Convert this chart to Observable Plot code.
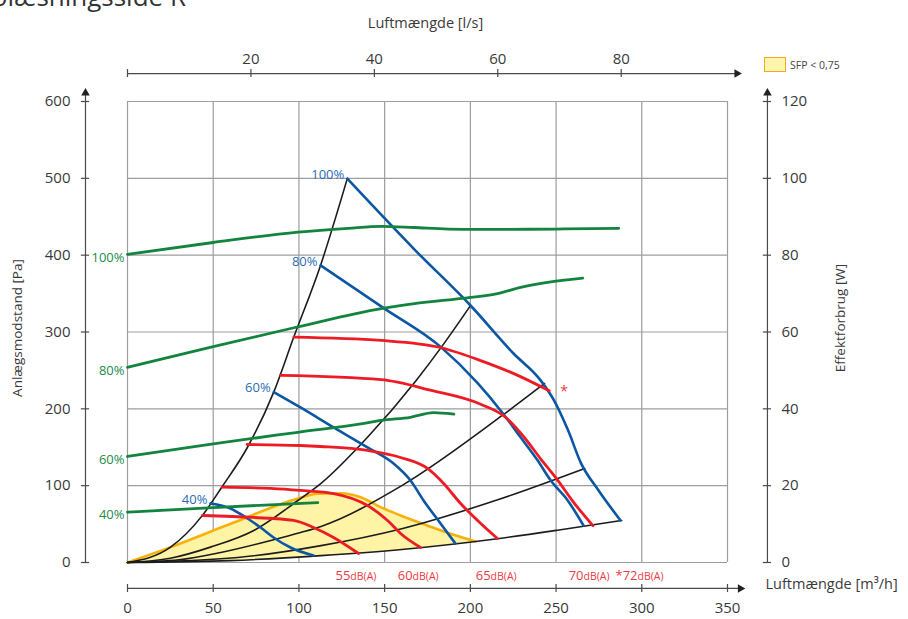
<!DOCTYPE html>
<html>
<head>
<meta charset="utf-8">
<script src="https://cdn.jsdelivr.net/npm/d3@7"></script>
<script src="https://cdn.jsdelivr.net/npm/@observablehq/plot@0.6"></script>
<style>
  html, body { margin: 0; padding: 0; background: #fff; }
  body { width: 908px; height: 619px; overflow: hidden; position: relative; font-family: "Open Sans", sans-serif; }
  #chart { position: absolute; left: 0; top: 0; }
  #title { position: absolute; right: 722px; top: -22px; font-size: 26px; color: #333; white-space: nowrap; line-height: 36px; }
  #legend { position: absolute; left: 764px; top: 57px; display: flex; align-items: center; font-size: 10.5px; color: #444; }
  #legend .sw { width: 20px; height: 13px; background: #fff5ad; border: 1.5px solid #f5a623; margin-right: 4px; }
</style>
</head>
<body>
<div id="chart"></div>
<div id="title">Indblæsningsside R</div>
<div id="legend"><div class="sw"></div><span>SFP &lt; 0,75</span></div>
<script>
// ---------- tick labels ----------
const xTicks = [0, 50, 100, 150, 200, 250, 300, 350];     // m³/h
const paTicks = [0, 100, 200, 300, 400, 500, 600];        // Pa
const wTicks = [0, 20, 40, 60, 80, 100, 120];             // W
const lsTicks = [0, 20, 40, 60, 80];                      // l/s
const PA_PER_W = 5;      // 120 W aligned with 600 Pa
const M3H_PER_LS = 3.6;

// ---------- fan curves (pressure, Pa) at control % ----------
const blueLabels = ["100%", "80%", "60%", "40%"];
const blue100 = [[128.2,499.6],[168,406],[200.1,334.5],[225.2,272],[241,237],[248.8,211],[257,172],[264.6,129],[274.7,94],[287.6,54.7]];
const blue80  = [[112.6,386.7],[149.7,330.7],[183,280],[204,234],[219,194],[229.3,163],[239.2,133],[246.8,107],[256.7,81],[266,48.2]];
const blue60  = [[85.3,221.8],[100.9,201.8],[120.2,175.8],[140,149.7],[155.2,128.9],[165.1,106.8],[172.7,80.7],[182.6,50.8],[191.3,24.7]];
const blue40  = [[48.4,76.8],[60.1,70.3],[70,57.3],[77.6,45.6],[85.2,32.6],[95.1,19.5],[108.5,9.1]];

// ---------- power curves (W) at control % ----------
const greenLabels = ["100%", "80%", "60%", "40%"];
const green100 = [[0,80.2],[50,83.3],[99.4,86],[128.7,87],[148,87.5],[167,87.2],[187,86.8],[206,86.7],[250,86.8],[286.5,87]];
const green80  = [[0,50.8],[50,56.2],[99,61.3],[148,66.1],[167.3,67.4],[200.1,69],[215.8,70],[229.3,71.6],[245,72.9],[265.5,74]];
const green60  = [[0,27.6],[50,30.9],[99.4,33.9],[138,36.2],[147.6,37],[165,37.8],[178.5,39],[190.4,38.6]];
const green40  = [[0,13.1],[50,14.3],[111,15.6]];

// ---------- sound level curves, dB(A) ----------
const redLabels = ["55", "60", "65", "70", "*72"];
const redLabelX = [130, 166.3, 211.8, 266, 297.5];
const red55 = [[43.8,61.2],[73.5,58.6],[96.8,54.7],[108.5,45.6],[120.2,32.6],[134.8,11.7]];
const red60 = [[55.2,98],[83.4,96.4],[100.9,93.8],[120.2,89.8],[140,74.2],[151.7,54.7],[159.3,37.8],[171,19.5]];
const red65 = [[69.8,153.6],[100.9,152.3],[112.6,151],[140,145.8],[159.3,136.7],[175,122.4],[184.4,102.9],[194.3,76.8],[204.2,54.7],[215.8,31.2]];
const red70 = [[89.3,243.5],[148,238],[177.2,224],[206,206],[220,190],[231,164],[241,135],[251,107],[260,79],[271.5,48]];
const red72 = [[97,293.4],[148,289],[183,279.5],[206.4,262.5],[225.7,245.5],[246,223.5]];

// ---------- system curves ----------
const sys1 = [[0,0],[25.1,20],[43.6,61],[55,98],[70,150],[85.3,221.8],[97,293.4],[112.6,386.7],[128.2,499.6]];
const sys2 = [[0,0],[25,5.5],[48.4,20],[73.7,41.7],[99.4,80.7],[112.9,103],[140,163],[168.4,237],[183,280],[200.1,334.5]];
const sys3 = [[0,0],[30,3.5],[54.4,13],[83.6,28.6],[101,39],[112.9,47],[160,100],[219,192],[243.3,233]];
const sys4 = [[0,0],[64.3,6.5],[112.9,22],[160,44],[216.4,82],[266.7,122.4]];
const sys5 = [[0,0],[60,2.5],[112.9,9],[160,17],[215.8,31],[250.8,42],[288.3,54.7]];

// ---------- SFP < 0,75 zone: [x, lower, upper] ----------
const sfpZone = [[0,0,0],[25.1,0.4,20],[62,2.6,52],[99,6.5,83],[110.7,8.1,89.4],[124.3,10.2,90.2],[136,12.2,85],[147.6,14.3,72],[159.3,16.7,61.2],[174.8,20.1,48.2],[188.4,23.4,37.3],[203,27.3,27.3]];

// ---------- styling ----------
const BLUE = "#0c57a4", RED = "#ed1c24", GREEN = "#13843e", BLACK = "#1c1c1c";
const ORANGE = "#f7b10a", YELLOW = "#fff3a6", GRID = "#9d9d9d", AXIS = "#4a4a4a", TXT = "#3a3a3a";

const flat = (arrs, labels) => arrs.flatMap((pts, i) => pts.map(p => ({x: p[0], y: p[1], k: labels[i]})));
const blueData = flat([blue100, blue80, blue60, blue40], blueLabels);
const greenData = flat([green100, green80, green60, green40], greenLabels);
const redData = flat([red55, red60, red65, red70, red72], redLabels);
const sysData = flat([sys1, sys2, sys3, sys4, sys5], ["s1","s2","s3","s4","s5"]);
const blueStarts = [blue100, blue80, blue60, blue40].map((p, i) => ({x: p[0][0], y: p[0][1], t: blueLabels[i]}));
const greenStarts = [green100, green80, green60, green40].map((p, i) => ({x: p[0][0], y: p[0][1], t: greenLabels[i]}));

// axis positions (in data units of the shared scales)
const LEFT_AXIS_X = -24.5, RIGHT_AXIS_X = 373.3, TOP_AXIS_Y = 636.4, BOTTOM_AXIS_Y = -33.8;
const TX = 2.4, TY = 5.2; // half tick lengths

const chart = Plot.plot({
  width: 908, height: 619,
  marginLeft: 127, marginRight: 181, marginTop: 101, marginBottom: 57,
  x: {domain: [0, 350], axis: null},
  y: {domain: [0, 600], axis: null},
  style: {fontFamily: "'Open Sans', sans-serif", fontSize: "14px", background: "#fff"},
  marks: [
    // grid
    Plot.ruleX(xTicks, {stroke: GRID, strokeWidth: 1.2}),
    Plot.ruleY(paTicks, {stroke: GRID, strokeWidth: 1.2}),
    // SFP zone
    Plot.areaY(sfpZone, {x: d => d[0], y1: d => d[1], y2: d => d[2], fill: YELLOW, curve: "monotone-x"}),
    Plot.line(sfpZone, {x: d => d[0], y: d => d[2], stroke: ORANGE, strokeWidth: 2.6, curve: "monotone-x"}),
    // system curves
    Plot.line(sysData, {x: "x", y: "y", z: "k", stroke: BLACK, strokeWidth: 1.6, curve: "monotone-x"}),
    // fan pressure curves
    Plot.line(blueData, {x: "x", y: "y", z: "k", stroke: BLUE, strokeWidth: 2.6, curve: "monotone-x"}),
    // sound curves
    Plot.line(redData, {x: "x", y: "y", z: "k", stroke: RED, strokeWidth: 2.8, curve: "monotone-x"}),
    // power curves
    Plot.line(greenData, {x: "x", y: d => d.y * PA_PER_W, z: "k", stroke: GREEN, strokeWidth: 2.8, curve: "monotone-x"}),
    // curve labels
    Plot.text(blueStarts, {x: "x", y: "y", text: "t", textAnchor: "end", dx: -3, dy: -4, fill: "#2b6bb4", fontSize: 13}),
    Plot.text(greenStarts, {x: "x", y: d => d.y * PA_PER_W, text: "t", textAnchor: "end", dx: -3, dy: 3, fill: "#1e8a48", fontSize: 13}),
    Plot.text(redLabels, {x: (d, i) => redLabelX[i], y: 0, text: d => d, textAnchor: "end", dy: 13, fill: "#ec3a3f", fontSize: 13}),
    Plot.text(redLabels, {x: (d, i) => redLabelX[i], y: 0, text: () => "dB(A)", textAnchor: "start", dy: 14, fill: "#ec3a3f", fontSize: 10.5}),
    Plot.text([red72[red72.length - 1]], {x: d => d[0], y: d => d[1], text: () => "*", dx: 15, dy: 1, fill: "#ec3a3f", fontSize: 14}),
    // left axis (Pa)
    Plot.ruleX([LEFT_AXIS_X], {y1: 0, y2: 612, stroke: AXIS, strokeWidth: 1.2}),
    Plot.dot([LEFT_AXIS_X], {x: d => d, y: 611, symbol: "triangle", r: 3.2, fill: "#222", stroke: "none"}),
    Plot.ruleY(paTicks, {y: d => d, x1: LEFT_AXIS_X - TX, x2: LEFT_AXIS_X + TX, stroke: AXIS, strokeWidth: 1.2}),
    Plot.text(paTicks, {x: LEFT_AXIS_X, y: d => d, text: d => String(d), textAnchor: "end", dx: -15, fill: TXT, fontSize: 15}),
    // right axis (W)
    Plot.ruleX([RIGHT_AXIS_X], {y1: 0, y2: 612, stroke: AXIS, strokeWidth: 1.2}),
    Plot.dot([RIGHT_AXIS_X], {x: d => d, y: 611, symbol: "triangle", r: 3.2, fill: "#222", stroke: "none"}),
    Plot.ruleY(wTicks, {y: d => d * PA_PER_W, x1: RIGHT_AXIS_X - TX, x2: RIGHT_AXIS_X + TX, stroke: AXIS, strokeWidth: 1.2}),
    Plot.text(wTicks, {x: RIGHT_AXIS_X, y: d => d * PA_PER_W, text: d => String(d), textAnchor: "start", dx: 14, fill: TXT, fontSize: 15}),
    // top axis (l/s)
    Plot.ruleY([TOP_AXIS_Y], {x1: 0, x2: 357, stroke: AXIS, strokeWidth: 1.2}),
    Plot.dot([TOP_AXIS_Y], {x: 355.5, y: d => d, symbol: "triangle", rotate: 90, r: 3.2, fill: "#222", stroke: "none"}),
    Plot.ruleX(lsTicks, {x: d => d * M3H_PER_LS, y1: TOP_AXIS_Y - TY, y2: TOP_AXIS_Y + TY, stroke: AXIS, strokeWidth: 1.2}),
    Plot.text(lsTicks.filter(d => d > 0), {x: d => d * M3H_PER_LS, y: TOP_AXIS_Y, text: d => String(d), dy: -14, fill: TXT, fontSize: 15}),
    // bottom axis (m³/h)
    Plot.ruleY([BOTTOM_AXIS_Y], {x1: 0, x2: 359, stroke: AXIS, strokeWidth: 1.2}),
    Plot.dot([BOTTOM_AXIS_Y], {x: 357.5, y: d => d, symbol: "triangle", rotate: 90, r: 3.2, fill: "#222", stroke: "none"}),
    Plot.ruleX(xTicks, {x: d => d, y1: BOTTOM_AXIS_Y - TY, y2: BOTTOM_AXIS_Y + TY, stroke: AXIS, strokeWidth: 1.2}),
    Plot.text(xTicks, {x: d => d, y: BOTTOM_AXIS_Y, text: d => String(d), dy: 20, fill: TXT, fontSize: 15}),
    // axis titles
    Plot.text(["Luftmængde [l/s]"], {frameAnchor: "top", textAnchor: "middle", dx: -2, dy: -84, fill: TXT, fontSize: 14.5}),
    Plot.text(["Luftmængde [m³/h]"], {frameAnchor: "bottom-right", textAnchor: "start", dx: 38, dy: 26, fill: TXT, fontSize: 14.5}),
    Plot.text(["Anlægsmodstand [Pa]"], {frameAnchor: "left", textAnchor: "middle", rotate: -90, dx: -110, dy: -4, fill: TXT, fontSize: 13.5}),
    Plot.text(["Effektforbrug [W]"], {frameAnchor: "right", textAnchor: "middle", rotate: -90, dx: 113, dy: -14, fill: TXT, fontSize: 13.5})
  ]
});
document.getElementById("chart").appendChild(chart);
</script>
</body>
</html>
